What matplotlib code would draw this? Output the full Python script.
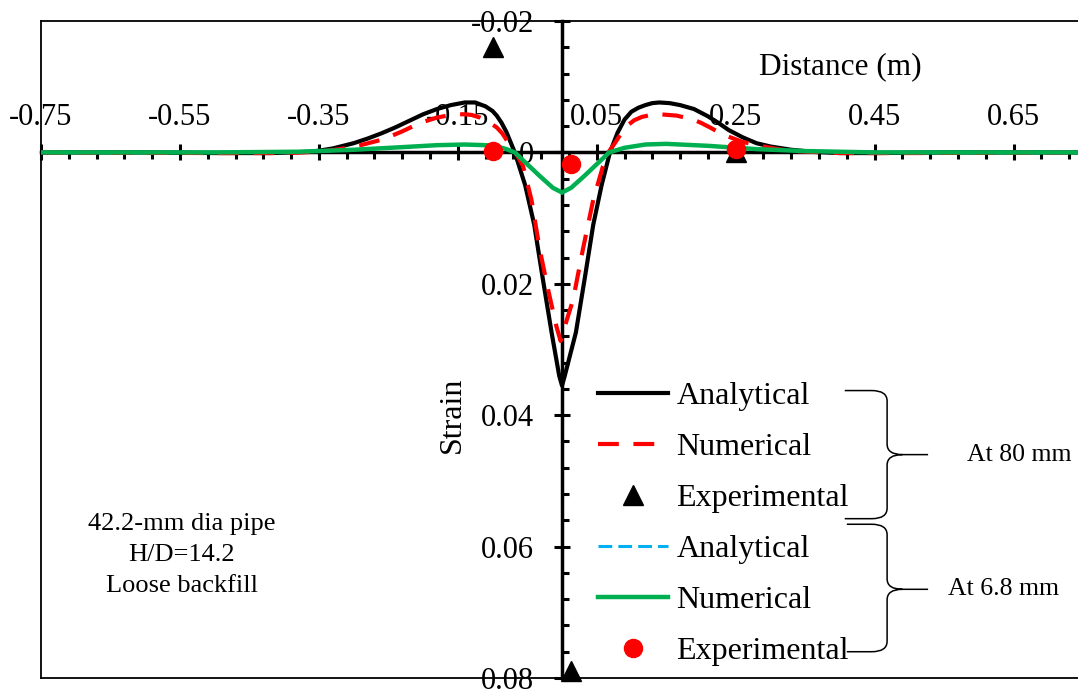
import matplotlib
matplotlib.use('Agg')
import matplotlib.pyplot as plt
import numpy as np
from matplotlib.path import Path
from matplotlib.patches import PathPatch
from matplotlib.ticker import MultipleLocator, FuncFormatter

plt.rcParams['font.family'] = ['Liberation Serif', 'DejaVu Serif']
plt.rcParams['axes.unicode_minus'] = False

# data: distance (m) and strain
x_ana80 = [-0.75, -0.60, -0.50, -0.42, -0.36, -0.33, -0.30, -0.28, -0.26, -0.24, -0.22, -0.20,
           -0.18, -0.16, -0.14, -0.125, -0.11, -0.10, -0.094, -0.087, -0.080, -0.068, -0.053,
           -0.040, -0.028, -0.015, -0.004, 0.0, 0.004, 0.020, 0.033, 0.045, 0.057, 0.069,
           0.080, 0.090, 0.100, 0.11, 0.12, 0.13, 0.14, 0.155, 0.17, 0.19, 0.21, 0.225, 0.24, 0.26,
           0.28, 0.30, 0.33, 0.36, 0.40, 0.45, 0.55, 0.75]
s_ana80 = [0.0, 0.0, 0.0001, 0.0001, -0.0001, -0.0006, -0.0014, -0.0021, -0.0029, -0.0038, -0.0048, -0.0058,
           -0.0066, -0.0072, -0.0076, -0.0076, -0.0070, -0.0063, -0.0056, -0.0045, -0.0031, 0.0, 0.0050,
           0.0110, 0.0190, 0.0274, 0.0340, 0.0355, 0.0340, 0.0274, 0.0190, 0.0110, 0.0050, 0.0,
           -0.0030, -0.0050, -0.0062, -0.0068, -0.0072, -0.0075, -0.0076, -0.0075, -0.0072, -0.0066, -0.0055, -0.0045, -0.0034, -0.0023,
           -0.0014, -0.0009, -0.0004, -0.0001, 0.0001, 0.0001, 0.0, 0.0]

x_num80 = [-0.75, -0.50, -0.40, -0.35, -0.32, -0.29, -0.257, -0.23, -0.204, -0.18, -0.165,
           -0.152, -0.14, -0.13, -0.118, -0.105, -0.094, -0.086, -0.078, -0.068, -0.056, -0.044,
           -0.032, -0.020, -0.008, -0.002, 0.004, 0.016, 0.030, 0.045, 0.059, 0.068, 0.076,
           0.084, 0.093, 0.104, 0.115, 0.128, 0.141, 0.165, 0.189, 0.20, 0.213, 0.225, 0.237,
           0.26, 0.285, 0.31, 0.333, 0.40, 0.50, 0.75]
s_num80 = [0.0, 0.0001, 0.0001, -0.0001, -0.0005, -0.0011, -0.0020, -0.0032, -0.0045, -0.0053, -0.0056,
           -0.0058, -0.0058, -0.0057, -0.0053, -0.0046, -0.0038, -0.0029, -0.0016, -0.0002, 0.0021, 0.0072,
           0.0148, 0.0209, 0.0265, 0.0287, 0.0265, 0.0224, 0.0148, 0.0072, 0.0021, -0.0002, -0.0014,
           -0.0027, -0.0040, -0.0049, -0.0054, -0.0057, -0.0058, -0.0056, -0.0050, -0.0045, -0.0038, -0.0031, -0.0025,
           -0.0016, -0.0010, -0.0005, -0.0002, 0.0001, 0.0001, 0.0]

x_exp80 = [-0.099, 0.25, 0.013]
s_exp80 = [-0.0161, 0.0, 0.079]

x_ana68 = [-0.75, -0.50, -0.38, -0.30, -0.23, -0.18, -0.14, -0.11, -0.094, -0.08, -0.068,
           -0.050, -0.032, -0.013, 0.0, 0.013, 0.032, 0.050, 0.068, 0.09, 0.12, 0.15, 0.21,
           0.28, 0.35, 0.45, 0.75]
s_ana68 = [0.0, 0.0, -0.0001, -0.0004, -0.0008, -0.0011, -0.0012, -0.0011, -0.0010, -0.0005, 0.0,
           0.0018, 0.0036, 0.0054, 0.0062, 0.0054, 0.0036, 0.0018, 0.0, -0.0007, -0.0012, -0.0013, -0.0010,
           -0.0005, -0.0002, 0.0, 0.0]

x_num68 = [-0.75, -0.50, -0.38, -0.30, -0.23, -0.18, -0.14, -0.11, -0.094, -0.08, -0.068,
           -0.050, -0.032, -0.013, 0.0, 0.013, 0.032, 0.050, 0.068, 0.09, 0.12, 0.15, 0.21,
           0.28, 0.35, 0.45, 0.75]
s_num68 = [0.0, 0.0, -0.0001, -0.0004, -0.0008, -0.0011, -0.0012, -0.0011, -0.0009, -0.0005, 0.0,
           0.0018, 0.0036, 0.0054, 0.0061, 0.0054, 0.0036, 0.0018, 0.0, -0.0007, -0.0012, -0.0013, -0.0010,
           -0.0005, -0.0002, 0.0, 0.0]

x_exp68 = [-0.099, 0.0125, 0.25]
s_exp68 = [-0.0002, 0.0018, -0.0005]

labels = ['Analytical', 'Numerical', 'Experimental', 'Analytical', 'Numerical', 'Experimental']

fig = plt.figure(figsize=(10.78, 6.90), dpi=100)
ax = fig.add_axes([41/1078, 12/690, 1042/1078, 657/690])

h1, = ax.plot(x_ana80, s_ana80, color='black', lw=3, zorder=4, solid_joinstyle='round')
h2, = ax.plot(x_num80, s_num80, color='#FF0000', lw=3, dashes=(5, 3.5), zorder=5)
h4, = ax.plot(x_ana68, s_ana68, color='#00B0F0', lw=2.2, dashes=(4.5, 2), zorder=5)
h5, = ax.plot(x_num68, s_num68, color='#00B050', lw=3.2, zorder=6, solid_joinstyle='round')
h3, = ax.plot(x_exp80, s_exp80, ls='none', marker='^', ms=15, color='black', zorder=7, clip_on=False)
h6, = ax.plot(x_exp68, s_exp68, ls='none', marker='o', ms=13, color='#FF0000', zorder=8)

ax.set_xlim(-0.75, 0.75)
ax.set_ylim(0.08, -0.02)

# axes crossing at the origin, frame around
ax.spines['left'].set_position(('data', 0))
ax.spines['top'].set_position(('data', 0))
ax.spines['left'].set_linewidth(2.5)
ax.spines['top'].set_linewidth(2.5)
ax.spines['bottom'].set_linewidth(1.3)
ax.spines['right'].set_linewidth(1.3)
ax.axvline(-0.75, color='black', lw=1.3, clip_on=False)
ax.axhline(-0.02, color='black', lw=1.3, clip_on=False)

ax.xaxis.set_ticks_position('top')
ax.yaxis.set_ticks_position('left')
ax.xaxis.set_major_locator(MultipleLocator(0.2, offset=0.05))
ax.xaxis.set_minor_locator(MultipleLocator(0.04, offset=0.01))
ax.yaxis.set_major_locator(MultipleLocator(0.02))
ax.yaxis.set_minor_locator(MultipleLocator(0.004))
ax.xaxis.set_major_formatter(FuncFormatter(lambda v, p: '%.2f' % v))
ax.yaxis.set_major_formatter(FuncFormatter(lambda v, p: '0' if abs(v) < 1e-9 else '%.2f' % v))

ax.tick_params(axis='x', which='major', direction='inout', length=12, width=2.2, labelsize=22, pad=9)
ax.tick_params(axis='x', which='minor', direction='in', length=5, width=2.2)
ax.tick_params(axis='y', which='major', direction='inout', length=12, width=2.2, labelsize=22, pad=14)
ax.tick_params(axis='y', which='minor', direction='in', length=5, width=2.2)

ax.text(0.40, -0.0131, 'Distance (m)', ha='center', va='center', fontsize=22.5)
ax.text(-0.158, 0.04, 'Strain', rotation=90, ha='center', va='center', fontsize=23)
ax.text(-0.547, 0.0613, '42.2-mm dia pipe\nH/D=14.2\nLoose backfill',
        ha='center', va='center', fontsize=19, linespacing=1.52)

leg = ax.legend([h1, h2, h3, h4, h5, h6], labels, loc='upper left',
                bbox_to_anchor=(598/1078, 1 - 382/690), bbox_transform=fig.transFigure,
                frameon=False, fontsize=23, handlelength=2.2, handletextpad=0.25,
                labelspacing=0.675, borderpad=0, borderaxespad=0, numpoints=1)


def brace(x0, xm, xt, y0, ym, y1, rx, ry):
    verts = [(x0, y0), (xm - rx, y0), (xm, y0), (xm, y0 + ry), (xm, ym - ry), (xm, ym),
             (xm + rx, ym), (xt, ym),
             (xm + rx, ym), (xm, ym), (xm, ym + ry), (xm, y1 - ry), (xm, y1),
             (xm - rx, y1), (x0, y1)]
    codes = [Path.MOVETO, Path.LINETO, Path.CURVE3, Path.CURVE3, Path.LINETO, Path.CURVE3,
             Path.CURVE3, Path.LINETO,
             Path.MOVETO, Path.CURVE3, Path.CURVE3, Path.LINETO, Path.CURVE3,
             Path.CURVE3, Path.LINETO]
    ax.add_patch(PathPatch(Path(verts, codes), fill=False, lw=1.1, color='black', zorder=6))


brace(0.407, 0.468, 0.527, 0.03625, 0.0460, 0.05575, 0.022, 0.0016)
brace(0.410, 0.468, 0.527, 0.0566, 0.0665, 0.0760, 0.022, 0.0016)
ax.text(0.583, 0.0460, 'At 80 mm', ha='left', va='center', fontsize=18.5)
ax.text(0.555, 0.0665, 'At 6.8 mm', ha='left', va='center', fontsize=18.5)

fig.savefig('out.png', dpi=100)
